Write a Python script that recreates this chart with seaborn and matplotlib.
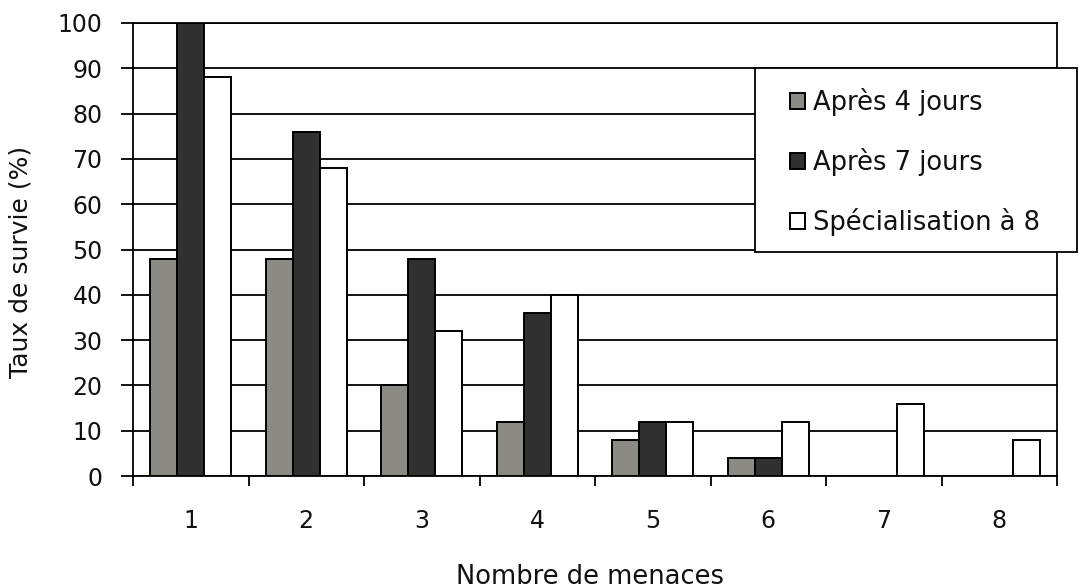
import matplotlib
matplotlib.use("Agg")
import matplotlib.pyplot as plt
from matplotlib.patches import Rectangle
from matplotlib.ticker import FixedLocator, NullFormatter
import seaborn as sns
import pandas as pd

# Survival rate (%) by number of threats
menaces = ["1", "2", "3", "4", "5", "6", "7", "8"]
apres_4_jours = [48, 48, 20, 12, 8, 4, 0, 0]
apres_7_jours = [100, 76, 48, 36, 12, 4, 0, 0]
specialisation_8 = [88, 68, 32, 40, 12, 12, 16, 8]
series = ["Après 4 jours", "Après 7 jours", "Spécialisation à 8"]
couleurs = ["#8b8b83", "#303030", "#ffffff"]
y_ticks = [0, 10, 20, 30, 40, 50, 60, 70, 80, 90, 100]

df = pd.DataFrame({
    "menaces": menaces * 3,
    "taux": apres_4_jours + apres_7_jours + specialisation_8,
    "serie": [series[0]] * 8 + [series[1]] * 8 + [series[2]] * 8,
})

sns.set_theme(style="white")
plt.rcParams["font.family"] = ["DejaVu Sans"]

W, H = 1079, 588
fig = plt.figure(figsize=(W / 100, H / 100), dpi=100)
ax = fig.add_axes([133 / W, 1 - 476 / H, (1057 - 133) / W, (476 - 23) / H])

sns.barplot(data=df, x="menaces", y="taux", hue="serie", hue_order=series,
            order=menaces, palette=couleurs, width=0.7, gap=0,
            edgecolor="black", linewidth=1.4, saturation=1, ax=ax, zorder=3)

handles, labels = ax.get_legend_handles_labels()
if ax.get_legend() is not None:
    ax.get_legend().remove()

ax.set_xlim(-0.5, 7.5)
ax.set_ylim(0, 100)
ax.set_yticks(y_ticks)
ax.set_yticklabels([str(v) for v in y_ticks])
ax.yaxis.grid(True, color="black", linewidth=1.3, zorder=0)
ax.set_axisbelow(True)

# Tick marks between categories, labels centred under each group
ax.xaxis.set_major_locator(FixedLocator([i - 0.5 for i in range(9)]))
ax.xaxis.set_major_formatter(NullFormatter())
ax.xaxis.set_minor_locator(FixedLocator(list(range(8))))
ax.set_xticklabels(menaces, minor=True)
ax.tick_params(axis="x", which="major", direction="out", length=7, width=1.3,
               color="black", bottom=True)
ax.tick_params(axis="x", which="minor", length=0, pad=24, labelsize=17,
               labelcolor="#111111")
ax.tick_params(axis="y", direction="out", length=9, width=1.3, color="black",
               left=True, pad=13, labelsize=17, labelcolor="#111111")

for side in ["left", "right", "top", "bottom"]:
    ax.spines[side].set_visible(True)
    ax.spines[side].set_color("black")
    ax.spines[side].set_linewidth(1.3)

ax.set_xlabel("Nombre de menaces", fontsize=18.5, color="#111111")
ax.set_ylabel("Taux de survie (%)", fontsize=18, color="#111111")
ax.xaxis.set_label_coords((590 - 133) / 924, (476 - 564) / 453)
ax.yaxis.set_label_coords((33 - 133) / 924, (476 - 262) / 453)

# Legend box
fig.patches.append(Rectangle((755 / W, 1 - 252 / H), (1077 - 755) / W, (252 - 68) / H,
                             transform=fig.transFigure, facecolor="white",
                             edgecolor="black", linewidth=1.3, zorder=5))
leg = fig.legend(handles, labels, loc="center left",
                 bbox_to_anchor=(790 / W, 1 - 162 / H), frameon=False,
                 fontsize=18.5, handlelength=0.6, handleheight=0.6,
                 handletextpad=0.3, labelspacing=1.25, borderpad=0,
                 borderaxespad=0)
leg.set_zorder(6)
for t in leg.get_texts():
    t.set_color("#111111")

fig.savefig("out.png", dpi=100, facecolor="white")
